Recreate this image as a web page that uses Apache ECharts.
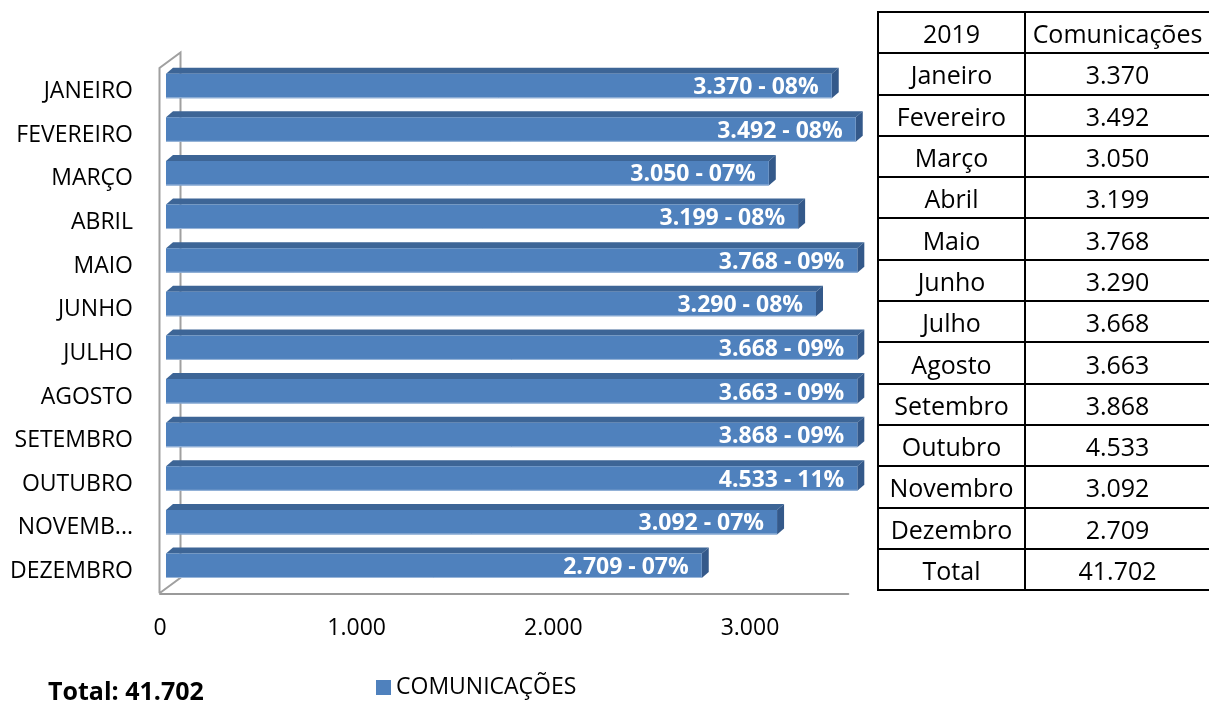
<!DOCTYPE html>
<html>
<head>
<meta charset="utf-8">
<script src="https://cdn.jsdelivr.net/npm/echarts@6/dist/echarts.min.js"></script>
<style>
html,body{margin:0;padding:0;background:#fff;width:1210px;height:702px;overflow:hidden;}
#chart{position:absolute;left:0;top:0;width:1210px;height:702px;}
#tbl{position:absolute;left:877px;top:11px;display:grid;grid-template-columns:147px 185px;grid-auto-rows:41.3px;border-bottom:2px solid #000;font-family:"Open Sans";font-size:25px;color:#000;}
#tbl div{box-sizing:border-box;border-left:2px solid #000;border-top:2px solid #000;display:flex;align-items:center;justify-content:center;white-space:nowrap;padding-top:1px;}
</style>
</head>
<body>
<div id="chart"></div>
<div id="tbl"></div>
<script>
// ---- data ----
const categories = ['JANEIRO','FEVEREIRO','MARÇO','ABRIL','MAIO','JUNHO','JULHO','AGOSTO','SETEMBRO','OUTUBRO','NOVEMBRO','DEZEMBRO'];
const values = [3370, 3492, 3050, 3199, 3768, 3290, 3668, 3663, 3868, 4533, 3092, 2709];
const percents = ['08','08','07','08','09','08','09','09','09','11','07','07'];
const xTicks = [0, 1000, 2000, 3000];
const xMax = 3500;
const seriesName = 'COMUNICAÇÕES';
const tableHeader = ['2019', 'Comunicações'];
const tableMonths = ['Janeiro','Fevereiro','Março','Abril','Maio','Junho','Julho','Agosto','Setembro','Outubro','Novembro','Dezembro'];
const totalLabel = 'Total';
const total = values.reduce((a, b) => a + b, 0);

const fmt = n => String(n).replace(/\B(?=(\d{3})+(?!\d))/g, '.');
const FONT = '"Open Sans"';

// ---- table ----
const tbl = document.getElementById('tbl');
let cells = [tableHeader[0], tableHeader[1]];
tableMonths.forEach((m, i) => { cells.push(m, fmt(values[i])); });
cells.push(totalLabel, fmt(total));
tbl.innerHTML = cells.map(c => '<div>' + c + '</div>').join('');

// ---- chart ----
const chart = echarts.init(document.getElementById('chart'), null, {renderer: 'canvas'});

const option = {
  animation: false,
  textStyle: {fontFamily: FONT},
  grid: {left: 160, top: 69.9, width: 688.3, height: 523.4},
  title: {
    text: 'Total: ' + fmt(total),
    left: 48, top: 680, padding: 0,
    textStyle: {fontFamily: FONT, fontSize: 25, fontWeight: 'bold', color: '#000'}
  },
  legend: {
    data: [seriesName],
    left: 376, top: 676, padding: 0,
    itemWidth: 15, itemHeight: 15, icon: 'rect',
    textStyle: {fontFamily: FONT, fontSize: 23, color: '#000'}
  },
  xAxis: {
    type: 'value',
    min: xTicks[0], max: xMax, interval: xTicks[1] - xTicks[0],
    axisLine: {show: true, lineStyle: {color: '#9a9a9a', width: 2}},
    axisTick: {show: false},
    splitLine: {show: false},
    axisLabel: {fontFamily: FONT, fontSize: 23, color: '#000', margin: 24, showMaxLabel: false,
      formatter: v => xTicks.indexOf(v) >= 0 ? fmt(v) : ''}
  },
  yAxis: {
    type: 'category', data: categories, inverse: true,
    axisLine: {show: false}, axisTick: {show: false}, splitLine: {show: false},
    axisLabel: {fontFamily: FONT, fontSize: 23, color: '#000', margin: 27, width: 125, overflow: 'truncate', ellipsis: '...',
      padding: [5, 0, 0, 0]}
  },
  series: [
    {
      type: 'custom', name: 'walls', silent: true, z: 1,
      data: [[0, 0]], encode: {x: 1, y: 0},
      renderItem: (params, api) => {
        const cs = params.coordSys;
        const x0 = cs.x - 0.5, yb = cs.y + cs.height, yt = cs.y - 2, dx = 21, dy = 15.5;
        return {
          type: 'polyline',
          shape: {points: [[x0, yb], [x0, yt], [x0 + dx, yt - dy], [x0 + dx, yb - dy], [x0, yb]]},
          style: {stroke: '#a0a0a0', lineWidth: 2, fill: null}
        };
      }
    },
    {
      type: 'custom', name: seriesName, z: 2,
      itemStyle: {color: '#4f81bd'},
      data: values.map((v, i) => [i, v]),
      encode: {x: 1, y: 0},
      renderItem: (params, api) => {
        const i = api.value(0);
        const v = Math.min(api.value(1), xMax);
        const p0 = api.coord([0, i]);
        const p1 = api.coord([v, i]);
        const cy = p0[1];
        const xl = p0[0] + 6, xr = p1[0] + 9;
        const yt = cy - 18, yb = cy + 6.5, dx = 7, dy = 6;
        const label = fmt(values[i]) + ' - ' + percents[i] + '%';
        return {
          type: 'group',
          children: [
            {type: 'polygon', shape: {points: [[xl, yt], [xl + dx, yt - dy], [xr + dx, yt - dy], [xr, yt]]},
              style: {fill: '#3d6596'}},
            {type: 'polygon', shape: {points: [[xr, yt], [xr + dx, yt - dy], [xr + dx, yb - dy], [xr, yb]]},
              style: {fill: '#34598a'}},
            {type: 'rect', shape: {x: xl, y: yt, width: xr - xl, height: yb - yt},
              style: {fill: '#4f81bd'}},
            {type: 'line', shape: {x1: xl, y1: yb - 0.5, x2: xr, y2: yb - 0.5},
              style: {stroke: '#9bb7da', lineWidth: 1}},
            {type: 'text', style: {text: label, x: xr - 13, y: cy - 4, align: 'right', verticalAlign: 'middle',
              fill: '#fff', font: 'bold 23px ' + FONT}}
          ]
        };
      }
    }
  ]
};
chart.setOption(option);
</script>
</body>
</html>
